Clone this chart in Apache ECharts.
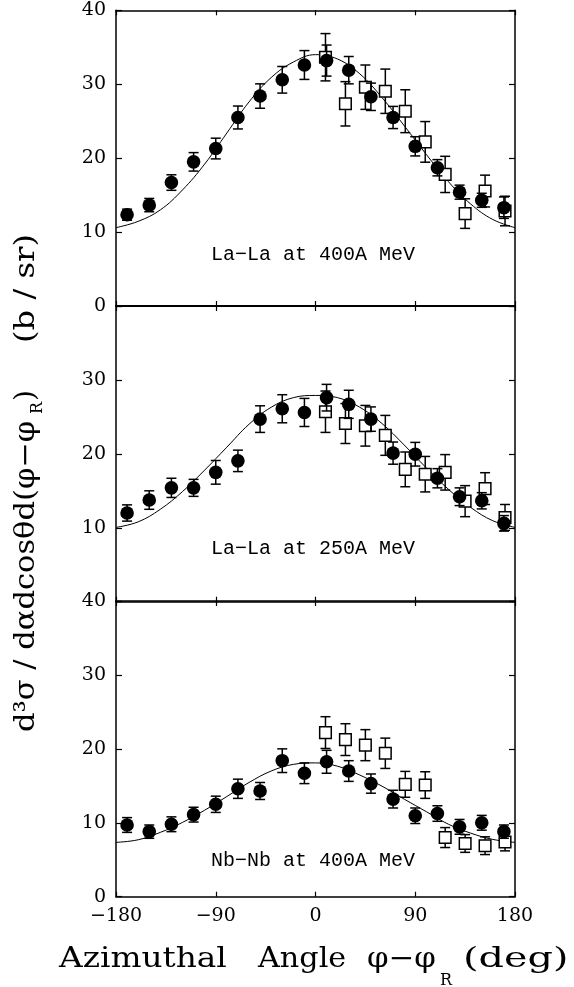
<!DOCTYPE html>
<html>
<head>
<meta charset="utf-8">
<script src="https://cdn.jsdelivr.net/npm/echarts@6/dist/echarts.min.js"></script>
<style>
  html, body { margin: 0; padding: 0; background: #fff; }
  #chart { width: 574px; height: 987px; }
</style>
</head>
<body>
<div id="chart"></div>
<script>
// angles (deg)
const circleAngles = [-170, -150, -130, -110, -90, -70, -50, -30, -10, 10, 30, 50, 70, 90, 110, 130, 150, 170];
const squareAngles = [9, 27, 45, 63, 81, 99, 117, 135, 153, 171];
const curveAngles = [-180, -160, -140, -120, -100, -80, -60, -40, -20, 0, 20, 40, 60, 80, 100, 120, 140, 160, 180];

// La-La 400A MeV
const la400Circles = [12.35, 13.65, 16.7, 19.5, 21.3, 25.5, 28.4, 30.6, 32.6, 33.2, 31.9, 28.3, 25.5, 21.6, 18.7, 15.4, 14.3, 13.3];
const la400CircleErr = [0.75, 0.9, 1.05, 1.25, 1.4, 1.55, 1.65, 1.8, 1.95, 2.1, 1.85, 1.85, 1.5, 1.3, 1.1, 0.95, 0.95, 1.45];
const la400Squares = [33.65, 27.35, 29.6, 29.05, 26.35, 22.2, 17.8, 12.5, 15.55, 12.85];
const la400SquareErr = [3.2, 3.0, 3.0, 3.0, 2.9, 2.75, 2.45, 2.0, 2.15, 2.0];
const la400Curve = [10.6, 11.45, 13.0, 15.7, 19.2, 23.4, 27.6, 30.9, 33.0, 34.0, 33.4, 31.4, 28.2, 24.4, 20.5, 16.8, 13.8, 11.7, 10.6];

// La-La 250A MeV
const la250Circles = [12.0, 13.75, 15.4, 15.4, 17.5, 19.05, 24.7, 26.1, 25.6, 27.6, 26.7, 24.7, 20.1, 19.95, 16.7, 14.2, 13.65, 10.6];
const la250CircleErr = [1.1, 1.25, 1.3, 1.15, 1.6, 1.45, 1.8, 1.9, 1.9, 1.8, 1.9, 1.65, 1.5, 1.6, 1.3, 1.2, 1.1, 1.05];
const la250Squares = [25.7, 24.1, 23.8, 22.5, 17.9, 17.25, 17.5, 13.6, 15.3, 11.4];
const la250SquareErr = [2.8, 2.7, 2.75, 2.7, 2.35, 2.4, 2.4, 2.1, 2.15, 1.75];
const la250Curve = [10.05, 10.8, 12.5, 14.9, 17.8, 20.9, 24.0, 26.3, 27.6, 27.9, 27.6, 26.3, 24.1, 21.2, 18.1, 15.2, 12.75, 10.95, 10.05];

// Nb-Nb 400A MeV
const nb400Circles = [9.7, 8.8, 9.8, 11.1, 12.5, 14.6, 14.3, 18.4, 16.7, 18.25, 17.0, 15.3, 13.2, 10.95, 11.25, 9.45, 10.0, 8.8];
const nb400CircleErr = [1.0, 0.9, 1.0, 1.0, 1.1, 1.3, 1.15, 1.6, 1.4, 1.55, 1.4, 1.3, 1.2, 1.05, 1.05, 1.0, 1.0, 0.9];
const nb400Squares = [22.2, 21.25, 20.5, 19.4, 15.2, 15.1, 8.0, 7.2, 6.9, 7.4];
const nb400SquareErr = [2.15, 2.15, 2.1, 2.05, 1.75, 1.8, 1.35, 1.2, 1.2, 1.2];
const nb400Curve = [7.35, 7.7, 8.7, 10.05, 11.7, 13.55, 15.45, 17.0, 17.9, 18.1, 17.65, 16.45, 14.95, 13.2, 11.5, 9.8, 8.6, 7.75, 7.35];

const panelLabels = ['La\u2212La at 400A MeV', 'La\u2212La at 250A MeV', 'Nb\u2212Nb at 400A MeV'];

const panels = [
    { circles: la400Circles, circleErr: la400CircleErr, squares: la400Squares, squareErr: la400SquareErr, curve: la400Curve, hideY: [] },
    { circles: la250Circles, circleErr: la250CircleErr, squares: la250Squares, squareErr: la250SquareErr, curve: la250Curve, hideY: [0, 40] },
    { circles: nb400Circles, circleErr: nb400CircleErr, squares: nb400Squares, squareErr: nb400SquareErr, curve: nb400Curve, hideY: [] }
];

const serif = '"DejaVu Serif", "Liberation Serif", serif';
const mono = '"Liberation Mono", "DejaVu Sans Mono", monospace';
const gridTops = [10.3, 306, 601];
const gridH = 295.7;

function zip3(xs, ys, es) {
    return xs.map((x, i) => [x, ys[i], es[i]]);
}

// error bar + marker, positioned through the axis scales
function markRender(kind) {
    return function (params, api) {
        const x = api.value(0), y = api.value(1), e = api.value(2);
        const p = api.coord([x, y]);
        const t = api.coord([x, y + e]);
        const b = api.coord([x, y - e]);
        const cap = 5;
        const ls = { stroke: '#000', lineWidth: 1.5 };
        const kids = [
            { type: 'line', shape: { x1: p[0], y1: t[1], x2: p[0], y2: b[1] }, style: ls },
            { type: 'line', shape: { x1: p[0] - cap, y1: t[1], x2: p[0] + cap, y2: t[1] }, style: ls },
            { type: 'line', shape: { x1: p[0] - cap, y1: b[1], x2: p[0] + cap, y2: b[1] }, style: ls }
        ];
        if (kind === 'circle') {
            kids.push({ type: 'circle', shape: { cx: p[0], cy: p[1], r: 6.8 }, style: { fill: '#000' } });
        } else {
            kids.push({ type: 'rect', shape: { x: p[0] - 5.8, y: p[1] - 5.8, width: 11.6, height: 11.6 },
                style: { fill: '#fff', stroke: '#000', lineWidth: 1.5 } });
        }
        return { type: 'group', children: kids };
    };
}

const grid = [], xAxis = [], yAxis = [], series = [];
panels.forEach((pn, i) => {
    grid.push({ left: 116, top: gridTops[i], width: 399, height: gridH });
    const lastRow = i === panels.length - 1;
    const tick = { inside: true, length: 5, lineStyle: { color: '#000', width: 1.2 } };
    const ytick = { inside: true, length: 6, lineStyle: { color: '#000', width: 1.2 } };
    xAxis.push({
        type: 'value', gridIndex: i, min: -180, max: 180, interval: 90, position: 'bottom',
        axisLine: { onZero: false, lineStyle: { color: '#000', width: i === 0 ? 2 : 1.5 } },
        axisTick: tick,
        axisLabel: {
            show: lastRow, margin: 10, color: '#000', fontFamily: serif, fontSize: 19,
            formatter: v => String(v).replace('-', '\u2212')
        },
        splitLine: { show: false }
    });
    xAxis.push({
        type: 'value', gridIndex: i, min: -180, max: 180, interval: 90, position: 'top',
        axisLine: { onZero: false, lineStyle: { color: '#000', width: 1.5 } },
        axisTick: tick, axisLabel: { show: false }, splitLine: { show: false }
    });
    yAxis.push({
        type: 'value', gridIndex: i, min: 0, max: 40, interval: 10, position: 'left',
        axisLine: { onZero: false, lineStyle: { color: '#000', width: 1.5 } },
        axisTick: ytick,
        axisLabel: {
            margin: 10, color: '#000', fontFamily: serif, fontSize: 19,
            formatter: v => pn.hideY.indexOf(v) >= 0 ? '' : String(v)
        },
        splitLine: { show: false }
    });
    yAxis.push({
        type: 'value', gridIndex: i, min: 0, max: 40, interval: 10, position: 'right',
        axisLine: { onZero: false, lineStyle: { color: '#000', width: 1.5 } },
        axisTick: ytick, axisLabel: { show: false }, splitLine: { show: false }
    });

    series.push({
        type: 'line', xAxisIndex: 2 * i, yAxisIndex: 2 * i, smooth: 0.4,
        data: curveAngles.map((a, k) => [a, pn.curve[k]]),
        showSymbol: false, lineStyle: { color: '#000', width: 1 }, silent: true, z: 1
    });
    series.push({
        type: 'custom', xAxisIndex: 2 * i, yAxisIndex: 2 * i,
        data: zip3(squareAngles, pn.squares, pn.squareErr),
        encode: { x: 0, y: 1 }, renderItem: markRender('square'), silent: true, z: 2
    });
    series.push({
        type: 'custom', xAxisIndex: 2 * i, yAxisIndex: 2 * i,
        data: zip3(circleAngles, pn.circles, pn.circleErr),
        encode: { x: 0, y: 1 }, renderItem: markRender('circle'), silent: true, z: 3
    });
});

const labelY = [255, 549, 861];
const graphic = panelLabels.map((t, i) => ({
    type: 'text', x: 313, y: labelY[i],
    style: { text: t, fontFamily: mono, fontSize: 20, fill: '#000', align: 'center', verticalAlign: 'middle' }
}));

function txt(text, x, y, size, sx, rot) {
    return {
        type: 'text', x: x, y: y, scaleX: sx, rotation: rot || 0,
        style: { text: text, fontFamily: serif, fontSize: size, fill: '#000', align: 'left', verticalAlign: 'middle' }
    };
}

// x axis title
graphic.push(txt('Azimuthal', 59, 960, 28, 1.17));
graphic.push(txt('Angle', 258, 960, 28, 1.08));
graphic.push(txt('\u03c6\u2212\u03c6', 367, 960, 28, 1.1));
graphic.push(txt('R', 440, 981, 16, 1.0));
graphic.push(txt('(deg)', 463, 960, 28, 1.42));

// y axis title (rotated, reads bottom to top)
const up = Math.PI / 2;
graphic.push(txt('d\u00b3\u03c3 / d\u03b1dcos\u03b8d(\u03c6\u2212\u03c6', 27, 732, 28, 1.09, up));
graphic.push(txt('R', 38, 414, 16, 1.0, up));
graphic.push(txt(')', 27, 401, 28, 1.0, up));
graphic.push(txt('(b / sr)', 27, 343, 28, 1.15, up));

const chart = echarts.init(document.getElementById('chart'), null, { renderer: 'canvas' });
chart.setOption({
    animation: false,
    backgroundColor: '#fff',
    grid, xAxis, yAxis, series, graphic
});
</script>
</body>
</html>
